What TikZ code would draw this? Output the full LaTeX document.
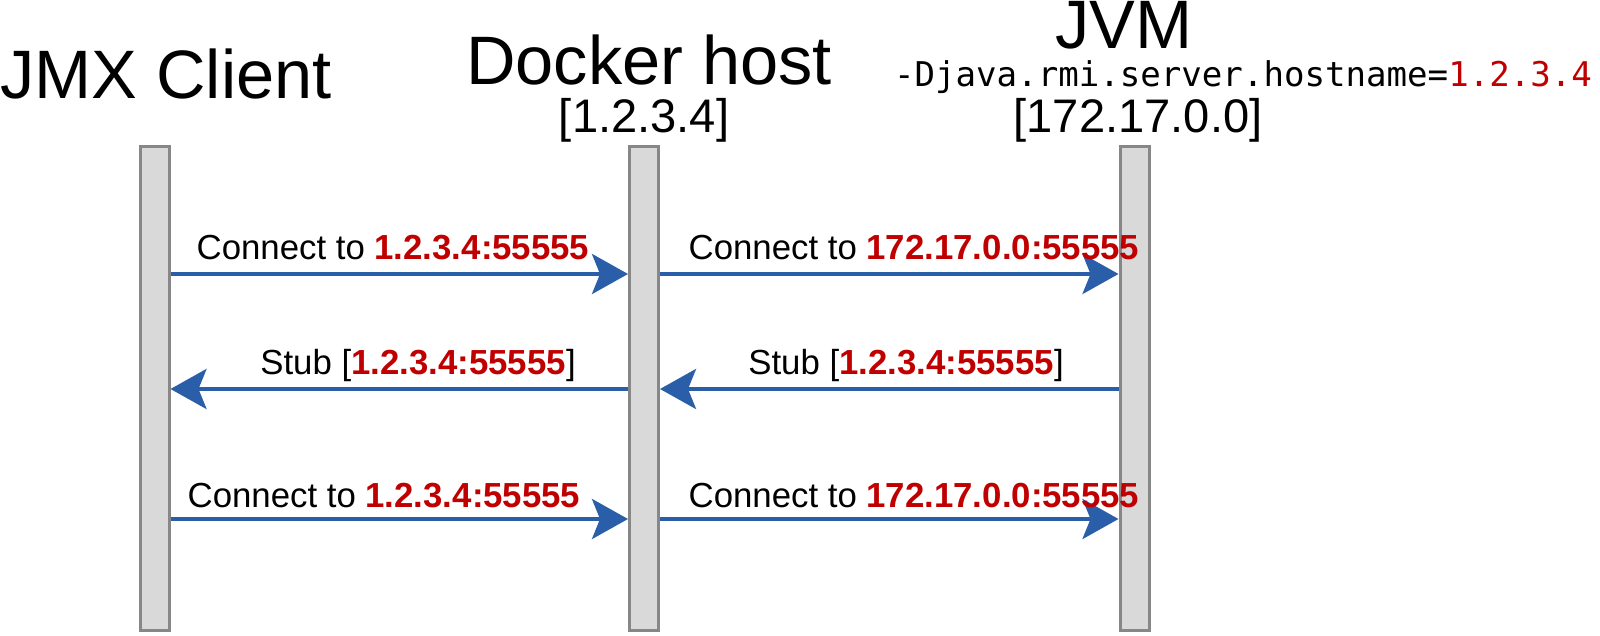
\documentclass[tikz,border=0pt]{standalone}
\usepackage{fontspec}
\setmainfont{Liberation Sans}
\newfontfamily\monofont{DejaVu Sans Mono}
\usepackage{tikz}
\usetikzlibrary{arrows.meta,positioning}

\definecolor{addrred}{HTML}{C00000}
\definecolor{msgblue}{HTML}{2B5EA8}
\definecolor{barfill}{HTML}{D9D9D9}
\definecolor{barline}{HTML}{878787}
\newcommand{\addr}[1]{\textbf{\color{addrred}#1}}

\begin{document}
\begin{tikzpicture}[
		bar/.style={draw=barline,fill=barfill,line width=0.03cm,minimum width=0.29cm,minimum height=4.84cm,inner sep=0pt},
		msg/.style={draw=msgblue,line width=0.04cm,-{Stealth[length=0.36cm,width=0.40cm,inset=0.08cm]}},
		lbl/.style={anchor=base,inner sep=0pt,font=\fontsize{9.9}{12}\selectfont},
		title/.style={anchor=base,inner sep=0pt,font=\fontsize{19.5}{22}\selectfont},
		subtitle/.style={anchor=base,inner sep=0pt,font=\fontsize{13.4}{16}\selectfont}]
	\useasboundingbox (0,0) rectangle (16,-6.36);
	
	% Lifelines
	\node[bar] (C) at (1.545,-3.885) {};
	\node[bar] (D) at (6.44,-3.885) {};
	\node[bar] (J) at (11.345,-3.885) {};
	
	% Headers
	\node[title] (Ct) at (1.66,-0.99) {JMX Client};
	\node[title] (Dt) at (6.49,-0.85) {Docker host};
	\node[subtitle] (Dip) at (6.44,-1.33) {[1.2.3.4]};
	\node[title] (Jt) at (11.24,-0.49) {JVM};
	\node[anchor=base,inner sep=0pt,font=\monofont\fontsize{9.7}{12}\selectfont] (Jopt) at (12.43,-0.87) {-Djava.rmi.server.hostname={\color{addrred}1.2.3.4}};
	\node[subtitle] (Jip) at (11.38,-1.33) {[172.17.0.0]};
	
	% Rows
	\coordinate (r1) at (0,-2.74);
	\coordinate (r2) at (0,-3.89);
	\coordinate (r3) at (0,-5.19);
	
	% Connect
	\draw[msg] (C.east |- r1) -- (D.west |- r1);
	\draw[msg] (D.east |- r1) -- (J.west |- r1);
	\node[lbl] (m1) at (3.93,-2.60) {Connect to \addr{1.2.3.4:55555}};
	\node[lbl] (m2) at (9.14,-2.60) {Connect to \addr{172.17.0.0:55555}};
	
	% Stub
	\draw[msg] (D.west |- r2) -- (C.east |- r2);
	\draw[msg] (J.west |- r2) -- (D.east |- r2);
	\node[lbl] (m3) at (4.18,-3.75) {Stub [\addr{1.2.3.4:55555}]};
	\node[lbl] (m4) at (9.06,-3.75) {Stub [\addr{1.2.3.4:55555}]};
	
	% Connect again
	\draw[msg] (C.east |- r3) -- (D.west |- r3);
	\draw[msg] (D.east |- r3) -- (J.west |- r3);
	\node[lbl] (m5) at (3.84,-5.07) {Connect to \addr{1.2.3.4:55555}};
	\node[lbl] (m6) at (9.14,-5.07) {Connect to \addr{172.17.0.0:55555}};
\end{tikzpicture}
\end{document}
